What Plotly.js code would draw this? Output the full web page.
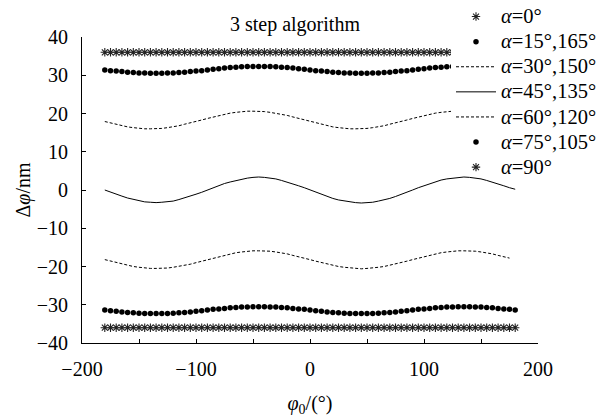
<!DOCTYPE html>
<html><head><meta charset="utf-8">
<script src="https://cdn.plot.ly/plotly-3.0.1.min.js"></script>
<style>body{margin:0;background:#fff}</style>
</head><body><div id="chart" style="width:616px;height:419px"></div>
<script>
const phi0 = [-180,-175,-170,-165,-160,-155,-150,-145,-140,-135,-130,-125,-120,-115,-110,-105,-100,-95,
  -90,-85,-80,-75,-70,-65,-60,-55,-50,-45,-40,-35,-30,-25,-20,-15,-10,-5,
  0,5,10,15,20,25,30,35,40,45,50,55,60,65,70,75,80,85,
  90,95,100,105,110,115,120,125,130,135,140,145,150,155,160,165,170,175,180];

const a0 = [36,36,36,36,36,36,36,36,36,36,36,36,36,36,36,36,36,36,
  36,36,36,36,36,36,36,36,36,36,36,36,36,36,36,36,36,36,
  36,36,36,36,36,36,36,36,36,36,36,36,36,36,36,36,36,36,
  36,36,36,36,36,36,36,36,36,36,36,36,36,36,36,36,36,36,36];

const a15 = [31.4,31.2,31.1,31.0,30.8,30.7,30.6,30.6,30.5,30.5,30.5,30.6,30.6,30.7,30.8,31.0,31.1,31.2,
  31.4,31.6,31.7,31.9,32.0,32.1,32.2,32.3,32.3,32.3,32.3,32.3,32.2,32.1,32.0,31.9,31.7,31.6,
  31.4,31.2,31.1,31.0,30.8,30.7,30.6,30.6,30.5,30.5,30.5,30.6,30.6,30.7,30.8,31.0,31.1,31.2,
  31.4,31.6,31.7,31.9,32.0,32.1,32.2,32.3,32.3,32.3,32.3,32.3,32.2,32.1,32.0,31.9,31.7,31.6,31.4];

const a30 = [17.9,17.5,17.2,16.8,16.5,16.3,16.1,16.0,16.0,16.0,16.1,16.3,16.5,16.8,17.2,17.5,17.9,18.3,
  18.7,19.1,19.5,19.8,20.1,20.3,20.5,20.6,20.6,20.6,20.5,20.3,20.1,19.8,19.5,19.1,18.7,18.3,
  17.9,17.5,17.2,16.8,16.5,16.3,16.1,16.0,16.0,16.0,16.1,16.3,16.5,16.8,17.2,17.5,17.9,18.3,
  18.7,19.1,19.5,19.8,20.1,20.3,20.5,20.6,20.6,20.6,20.5,20.3,20.1,19.8,19.5,19.1,18.7,18.3,17.9];

const a45 = [0,-0.6,-1.1,-1.6,-2.1,-2.5,-2.9,-3.1,-3.2,-3.3,-3.2,-3.1,-2.9,-2.5,-2.1,-1.6,-1.1,-0.6,
  0,0.6,1.1,1.7,2.1,2.5,2.9,3.1,3.3,3.4,3.3,3.1,2.9,2.5,2.1,1.7,1.1,0.6,
  0,-0.6,-1.2,-1.7,-2.2,-2.6,-2.9,-3.2,-3.3,-3.4,-3.3,-3.2,-2.9,-2.6,-2.2,-1.7,-1.2,-0.6,
  0,0.6,1.1,1.7,2.1,2.6,2.9,3.1,3.3,3.4,3.3,3.1,2.9,2.5,2.1,1.6,1.1,0.6,0.2];

const a60 = [-18.2,-18.6,-19.0,-19.4,-19.7,-20.0,-20.2,-20.4,-20.5,-20.5,-20.5,-20.4,-20.2,-20.0,-19.7,-19.4,-19.0,-18.6,
  -18.2,-17.8,-17.4,-17.1,-16.7,-16.4,-16.2,-16.0,-15.9,-15.9,-15.9,-16.0,-16.2,-16.4,-16.7,-17.1,-17.4,-17.8,
  -18.2,-18.6,-19.0,-19.4,-19.7,-20.0,-20.2,-20.4,-20.5,-20.6,-20.5,-20.4,-20.2,-20.0,-19.7,-19.4,-19.0,-18.6,
  -18.2,-17.8,-17.4,-17.1,-16.7,-16.4,-16.2,-16.0,-15.9,-15.9,-15.9,-16.0,-16.2,-16.4,-16.7,-17.1,-17.4,-17.8];

const a75 = [-31.4,-31.6,-31.7,-31.9,-32.0,-32.1,-32.2,-32.3,-32.3,-32.3,-32.3,-32.3,-32.2,-32.1,-32.0,-31.9,-31.7,-31.6,
  -31.4,-31.2,-31.1,-31.0,-30.8,-30.7,-30.6,-30.6,-30.5,-30.5,-30.5,-30.6,-30.6,-30.7,-30.8,-31.0,-31.1,-31.2,
  -31.4,-31.6,-31.7,-31.9,-32.0,-32.1,-32.2,-32.3,-32.3,-32.3,-32.3,-32.3,-32.2,-32.1,-32.0,-31.9,-31.7,-31.6,
  -31.4,-31.2,-31.1,-31.0,-30.8,-30.7,-30.6,-30.6,-30.5,-30.5,-30.5,-30.6,-30.6,-30.7,-30.8,-31.0,-31.1,-31.2,-31.4];

const a90 = [-36,-36,-36,-36,-36,-36,-36,-36,-36,-36,-36,-36,-36,-36,-36,-36,-36,-36,
  -36,-36,-36,-36,-36,-36,-36,-36,-36,-36,-36,-36,-36,-36,-36,-36,-36,-36,
  -36,-36,-36,-36,-36,-36,-36,-36,-36,-36,-36,-36,-36,-36,-36,-36,-36,-36,
  -36,-36,-36,-36,-36,-36,-36,-36,-36,-36,-36,-36,-36,-36,-36,-36,-36,-36,-36];

const names = ['α=0°','α=15°,165°','α=30°,150°','α=45°,135°','α=60°,120°','α=75°,105°','α=90°'];

const FONT = 'Liberation Serif, Times New Roman, serif';
function lbl(n){
  const parts = n.split('=');
  return '<span style="font-size:20.5px"><i>' + parts[0] + '</i>=' + parts[1] + '</span>';
}
const star = {symbol:'asterisk-open', size:7, color:'#222', line:{color:'#222', width:1.1}};
const dot = {symbol:'circle', size:5.5, color:'#000'};

const traces = [
  {x:phi0, y:a0, name:lbl(names[0]), mode:'markers', marker:star},
  {x:phi0, y:a15, name:lbl(names[1]), mode:'markers', marker:dot},
  {x:phi0, y:a30, name:lbl(names[2]), mode:'lines', line:{color:'#000', width:1, dash:'3px,2px'}},
  {x:phi0, y:a45, name:lbl(names[3]), mode:'lines', line:{color:'#000', width:1}},
  {x:phi0, y:a60, name:lbl(names[4]), mode:'lines', line:{color:'#000', width:1, dash:'3px,2px'}},
  {x:phi0, y:a75, name:lbl(names[5]), mode:'markers', marker:dot},
  {x:phi0, y:a90, name:lbl(names[6]), mode:'markers', marker:star}
];

const legendLeft = (451-82)/456;

const layout = {
  width:616, height:419,
  margin:{l:82, r:78, t:37, b:76, autoexpand:false},
  paper_bgcolor:'#fff', plot_bgcolor:'#fff',
  font:{family:FONT, color:'#000', size:20},
  title:{text:'3 step algorithm', x:0.467, xref:'paper', xanchor:'center', y:1-24/419, yref:'container', yanchor:'middle', font:{family:FONT, size:20, color:'#000'}},
  xaxis:{range:[-200,200], dtick:100, tick0:0, ticks:'inside', ticklen:4, tickcolor:'#000',
    minor:{dtick:50, ticks:'inside', ticklen:4, tickcolor:'#000', showgrid:false},
    showline:true, linecolor:'#000', linewidth:1, showgrid:false, zeroline:false,
    tickfont:{family:FONT, size:20, color:'#000'}, ticklabelstandoff:8,
    title:{text:'<i>φ</i><sub>0</sub>/(°)', font:{family:FONT, size:20, color:'#000'}, standoff:16}},
  yaxis:{range:[-40,40], dtick:10, ticks:'inside', ticklen:4, tickcolor:'#000',
    showline:true, linecolor:'#000', linewidth:1, showgrid:false, zeroline:false,
    tickfont:{family:FONT, size:20, color:'#000'}, ticklabelstandoff:9,
    title:{text:'Δ<i>φ</i>/nm', font:{family:FONT, size:20, color:'#000'}, standoff:0}},
  legend:{x:legendLeft, xref:'paper', y:1+38/306, yref:'paper', xanchor:'left', yanchor:'top',
    bgcolor:'rgba(255,255,255,0)', borderwidth:0, itemwidth:40, tracegroupgap:0,
    font:{family:FONT, size:17, color:'#000'}},
  shapes:[{type:'rect', xref:'paper', yref:'paper', x0:legendLeft, x1:1.0, y0:(343-171)/306, y1:1.0,
    fillcolor:'#fff', line:{width:0}, layer:'above'}],
  showlegend:true
};

Plotly.newPlot('chart', traces, layout, {displayModeBar:false, staticPlot:true});
</script>
</body></html>
